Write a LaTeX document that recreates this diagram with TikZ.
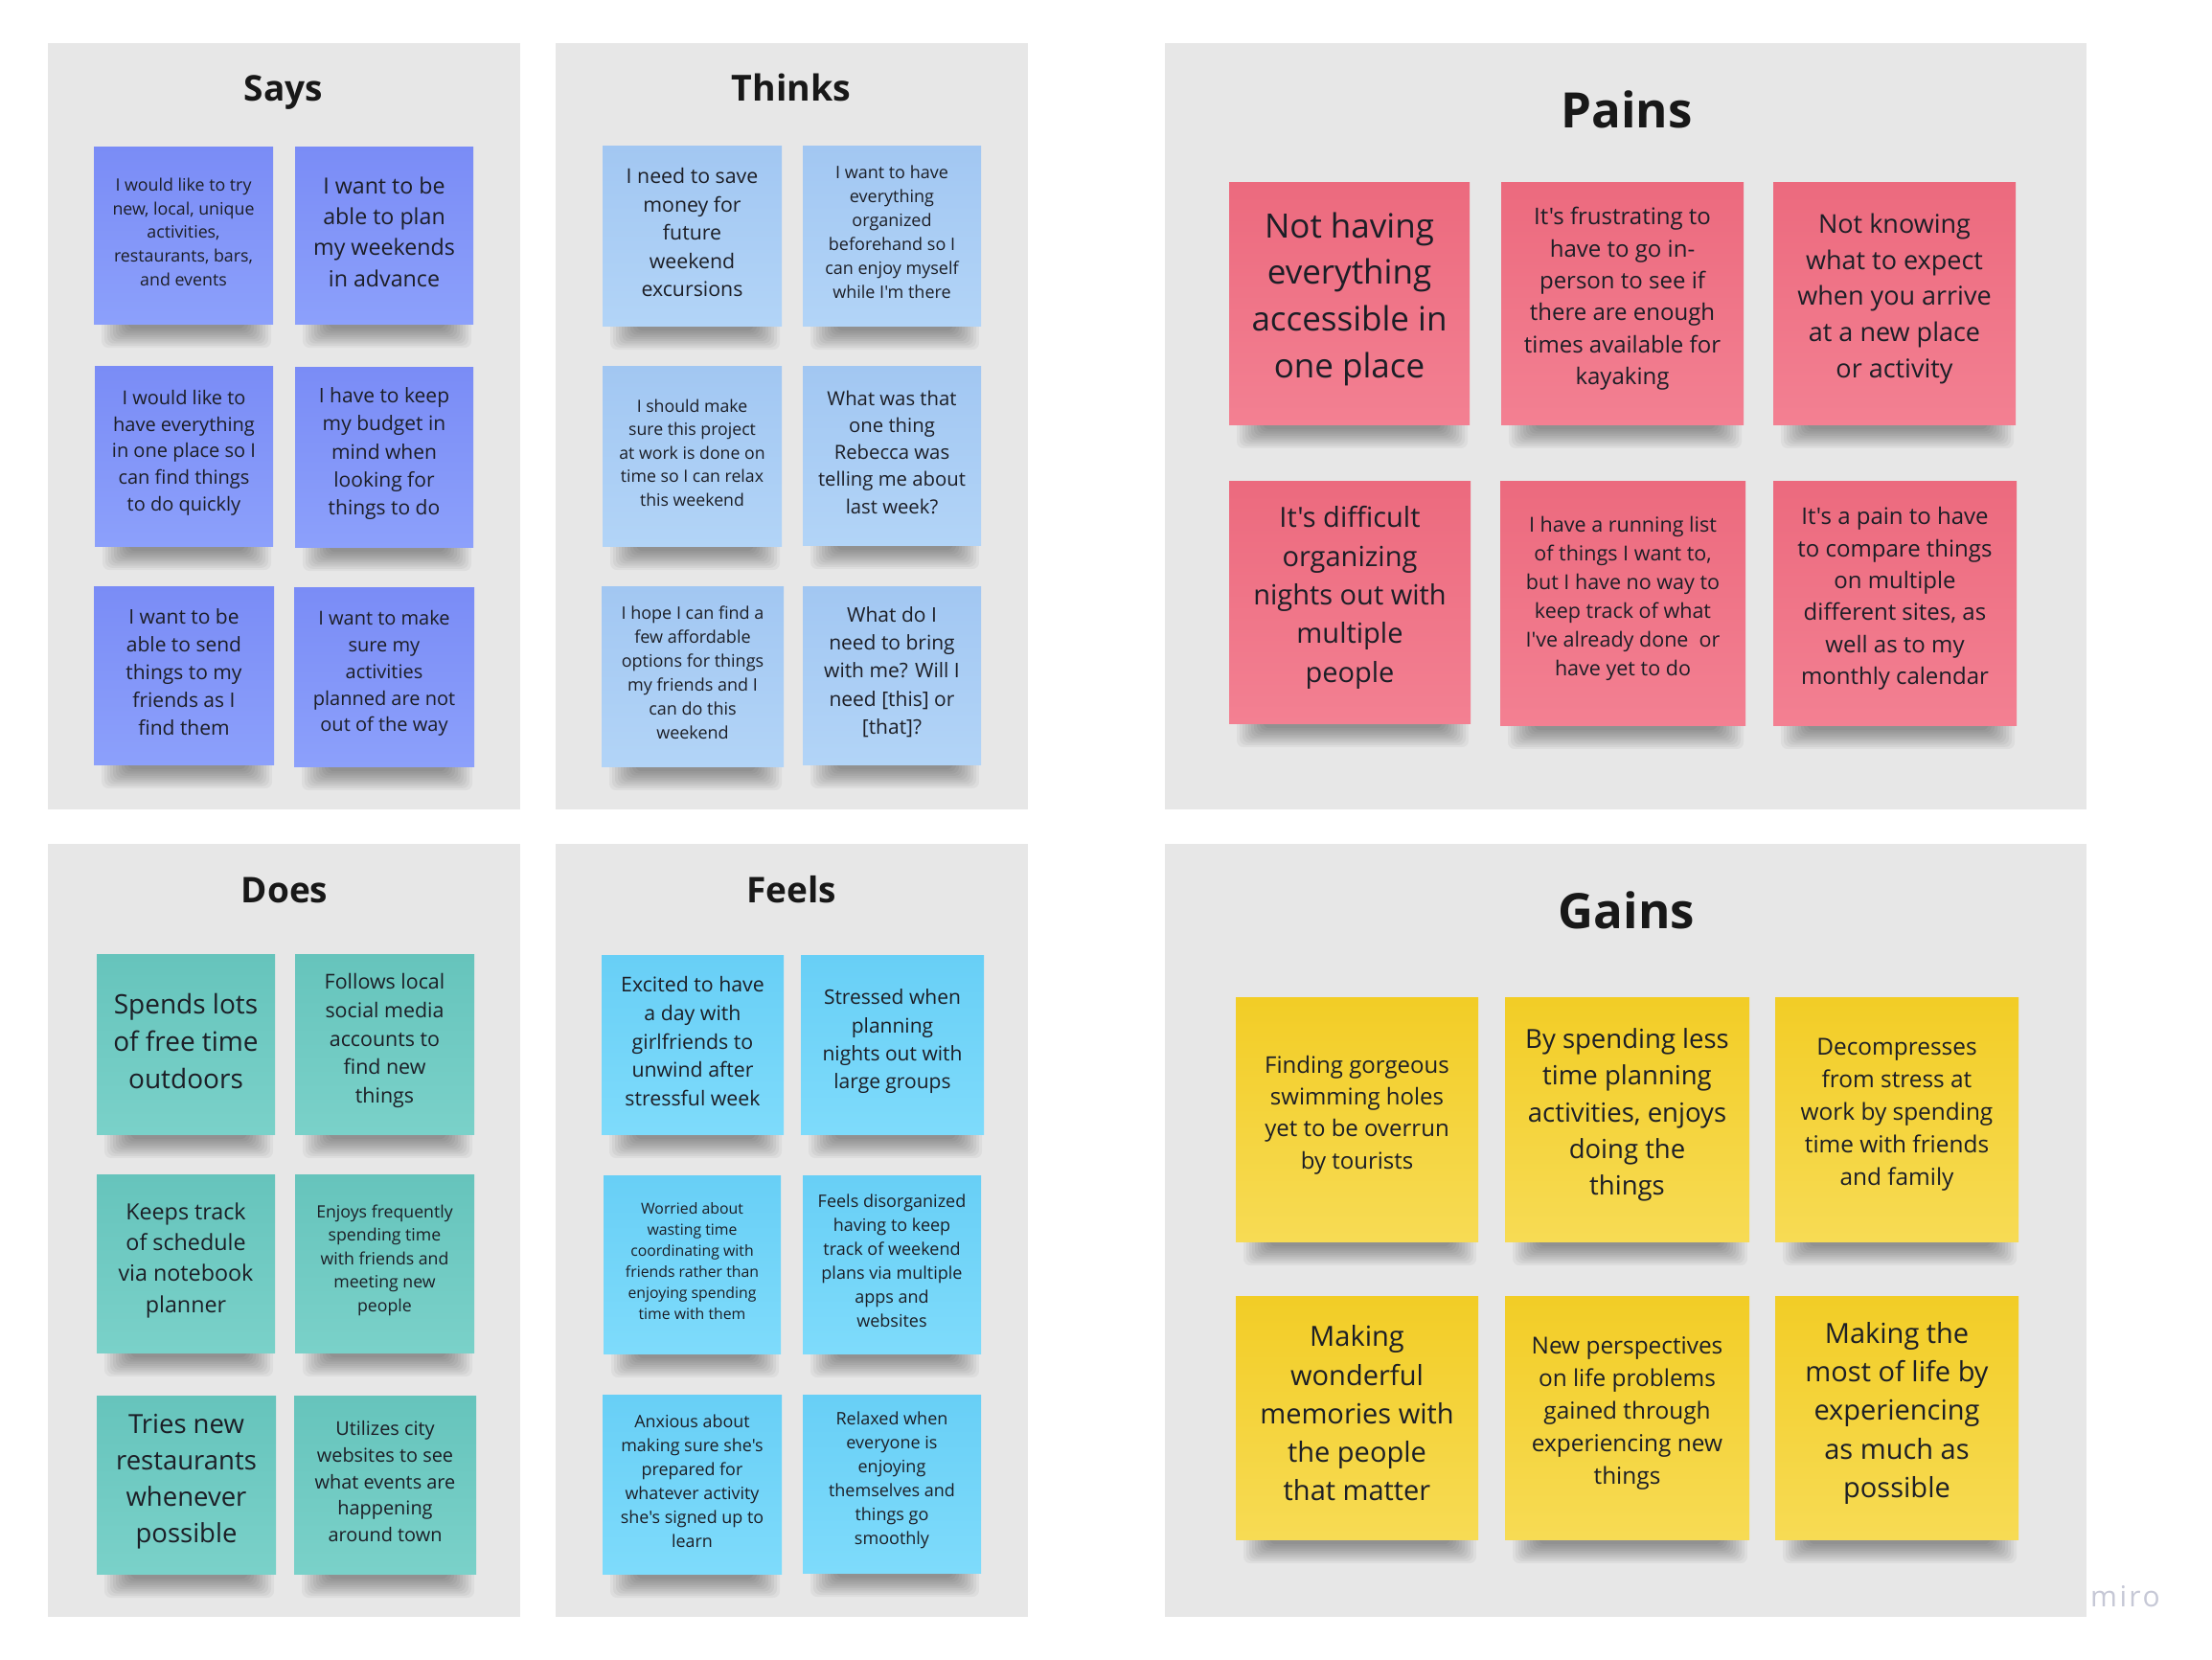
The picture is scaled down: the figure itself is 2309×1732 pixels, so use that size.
\documentclass[tikz,border=0pt]{standalone}
\usepackage{fontspec}
\setmainfont{Open Sans}[Ligatures=TeXOff]
\definecolor{panel}{RGB}{231,231,231}
\definecolor{ink}{RGB}{28,30,38}
\definecolor{titleink}{RGB}{24,24,24}
\definecolor{wmark}{RGB}{198,200,214}
\definecolor{saysT}{RGB}{122,140,246}\definecolor{saysB}{RGB}{140,160,251}
\definecolor{thinkT}{RGB}{162,199,242}\definecolor{thinkB}{RGB}{178,212,247}
\definecolor{doesT}{RGB}{102,196,188}\definecolor{doesB}{RGB}{122,209,201}
\definecolor{feelT}{RGB}{104,207,246}\definecolor{feelB}{RGB}{126,219,251}
\definecolor{painT}{RGB}{236,106,126}\definecolor{painB}{RGB}{243,128,146}
\definecolor{gainT}{RGB}{242,205,38}\definecolor{gainB}{RGB}{247,219,84}
\newcommand\fs[1]{\fontsize{#1}{\fpeval{#1*1.39}}\selectfont}
\tikzset{
  stickybox/.style={rectangle, inner sep=0pt, draw=none},
  stickytext/.style={inner sep=0pt, align=center, text=ink},
  paneltitle/.style={anchor=base, text=titleink, font=\fontsize{#1}{#1}\selectfont\bfseries},
  panelbox/.style={fill=panel},
}
% name, x1, y1, x2, y2, colour prefix, font size, text
\newcommand\sticky[8]{%
  \foreach \k in {0,...,9}{%
    \fill[black,opacity=0.045,rounded corners=7pt] ({#2+8+3*\k},{#5-8}) rectangle ({#4-2-3*\k},{#5+25-2.2*\k});
  }
  \node[stickybox, top color=#6T, bottom color=#6B, minimum width={#4pt-#2pt}, minimum height={#5pt-#3pt}] (#1) at ({(#2+#4)/2},{(#3+#5)/2}) {};
  \node[stickytext, font=\fs{#7}] (#1t) at ({(#2+#4)/2},{(#3+#5)/2-0.018*(#5-#3)}) {#8};
}
\begin{document}
\begin{tikzpicture}[x=1pt,y=-1pt]
\useasboundingbox (0,0) rectangle (2309,1732);
\fill[white] (0,0) rectangle (2309,1732);
% panels
\fill[panelbox] (50,45) rectangle (543,845);
\fill[panelbox] (580,45) rectangle (1073,845);
\fill[panelbox] (1216,45) rectangle (2178,845);
\fill[panelbox] (50,881) rectangle (543,1688);
\fill[panelbox] (580,881) rectangle (1073,1688);
\fill[panelbox] (1216,881) rectangle (2178,1688);
% titles
\node[paneltitle=37] (says) at (296,105) {Says};
\node[paneltitle=37.5] (thinks) at (826,105) {Thinks};
\node[paneltitle=51] (pains) at (1698,133) {Pains};
\node[paneltitle=37] (does) at (297,942) {Does};
\node[paneltitle=37] (feels) at (826,942) {Feels};
\node[paneltitle=51] (gains) at (1698,969) {Gains};
% Says
\sticky{s1}{98}{153}{285}{338}{says}{17.8}{I would like to try\\new, local, unique\\activities,\\restaurants, bars,\\and events}
\sticky{s2}{308}{153}{494}{338}{says}{23.2}{I want to be\\able to plan\\my weekends\\in advance}
\sticky{s3}{99}{382}{285}{570}{says}{20}{I would like to\\have everything\\in one place so I\\can find things\\to do quickly}
\sticky{s4}{308}{383}{494}{571}{says}{21}{I have to keep\\my budget in\\mind when\\looking for\\things to do}
\sticky{s5}{98}{612}{286}{798}{says}{21}{I want to be\\able to send\\things to my\\friends as I\\find them}
\sticky{s6}{307}{613}{495}{800}{says}{20}{I want to make\\sure my\\activities\\planned are not\\out of the way}
% Thinks
\sticky{t1}{629}{152}{816}{340}{think}{21.3}{I need to save\\money for\\future\\weekend\\excursions}
\sticky{t2}{838}{152}{1024}{340}{think}{18}{I want to have\\everything\\organized\\beforehand so I\\can enjoy myself\\while I'm there}
\sticky{t3}{629}{382}{816}{570}{think}{17.7}{I should make\\sure this project\\at work is done on\\time so I can relax\\this weekend}
\sticky{t4}{838}{382}{1024}{569}{think}{20.3}{What was that\\one thing\\Rebecca was\\telling me about\\last week?}
\sticky{t5}{628}{612}{818}{800}{think}{18}{I hope I can find a\\few affordable\\options for things\\my friends and I\\can do this\\weekend}
\sticky{t6}{838}{612}{1024}{798}{think}{21}{What do I\\need to bring\\with me? Will I\\need [this] or\\{[that]?}}
% Does
\sticky{d1}{101}{996}{287}{1184}{does}{28}{Spends lots\\of free time\\outdoors}
\sticky{d2}{308}{996}{495}{1184}{does}{21.4}{Follows local\\social media\\accounts to\\find new\\things}
\sticky{d3}{101}{1226}{287}{1412}{does}{23.3}{Keeps track\\of schedule\\via notebook\\planner}
\sticky{d4}{308}{1226}{495}{1412}{does}{17.7}{Enjoys frequently\\spending time\\with friends and\\meeting new\\people}
\sticky{d5}{101}{1457}{288}{1643}{does}{27.5}{Tries new\\restaurants\\whenever\\possible}
\sticky{d6}{307}{1457}{497}{1643}{does}{19.9}{Utilizes city\\websites to see\\what events are\\happening\\around town}
% Feels
\sticky{f1}{628}{997}{818}{1184}{feel}{21.3}{Excited to have\\a day with\\girlfriends to\\unwind after\\stressful week}
\sticky{f2}{836}{997}{1027}{1184}{feel}{21}{Stressed when\\planning\\nights out with\\large groups}
\sticky{f3}{630}{1227}{815}{1413}{feel}{15.8}{Worried about\\wasting time\\coordinating with\\friends rather than\\enjoying spending\\time with them}
\sticky{f4}{838}{1227}{1024}{1413}{feel}{18}{Feels disorganized\\having to keep\\track of weekend\\plans via multiple\\apps and\\websites}
\sticky{f5}{629}{1456}{816}{1643}{feel}{17.9}{Anxious about\\making sure she's\\prepared for\\whatever activity\\she's signed up to\\learn}
\sticky{f6}{838}{1456}{1024}{1642}{feel}{18}{Relaxed when\\everyone is\\enjoying\\themselves and\\things go\\smoothly}
% Pains
\sticky{p1}{1283}{190}{1534}{443}{pain}{35}{Not having\\everything\\accessible in\\one place}
\sticky{p2}{1567}{190}{1820}{443}{pain}{24}{It's frustrating to\\have to go in-\\person to see if\\there are enough\\times available for\\kayaking}
\sticky{p3}{1851}{190}{2104}{443}{pain}{27}{Not knowing\\what to expect\\when you arrive\\at a new place\\or activity}
\sticky{p4}{1283}{502}{1535}{755}{pain}{29}{It's difficult\\organizing\\nights out with\\multiple\\people}
\sticky{p5}{1566}{502}{1822}{757}{pain}{21.5}{I have a running list\\of things I want to,\\but I have no way to\\keep track of what\\I've already done\ \ or\\have yet to do}
\sticky{p6}{1851}{502}{2105}{757}{pain}{24}{It's a pain to have\\to compare things\\on multiple\\different sites, as\\well as to my\\monthly calendar}
% Gains
\sticky{g1}{1290}{1041}{1543}{1296}{gain}{24}{Finding gorgeous\\swimming holes\\yet to be overrun\\by tourists}
\sticky{g2}{1571}{1041}{1826}{1296}{gain}{27.5}{By spending less\\time planning\\activities, enjoys\\doing the\\things}
\sticky{g3}{1853}{1041}{2107}{1296}{gain}{24.4}{Decompresses\\from stress at\\work by spending\\time with friends\\and family}
\sticky{g4}{1290}{1353}{1543}{1607}{gain}{29}{Making\\wonderful\\memories with\\the people\\that matter}
\sticky{g5}{1571}{1353}{1826}{1607}{gain}{24.4}{New perspectives\\on life problems\\gained through\\experiencing new\\things}
\sticky{g6}{1853}{1353}{2107}{1607}{gain}{29}{Making the\\most of life by\\experiencing\\as much as\\possible}
% watermark
\node[anchor=base west, inner sep=0pt, text=wmark, font=\fontsize{30}{30}\selectfont\addfontfeature{LetterSpace=8}] (wm) at (2182,1677) {miro};
\end{tikzpicture}
\end{document}
